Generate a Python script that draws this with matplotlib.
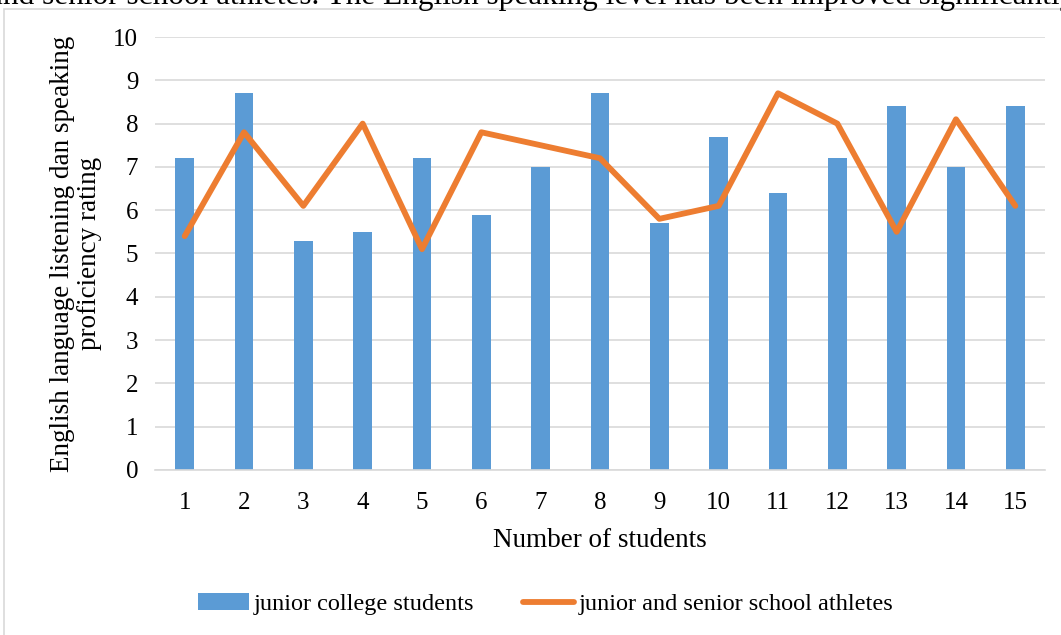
import numpy as np
import matplotlib.pyplot as plt
from matplotlib.patches import Rectangle

plt.rcParams['font.family'] = ['Liberation Serif', 'DejaVu Serif']

# data
students = list(range(1, 16))
college = [7.2, 8.7, 5.3, 5.5, 7.2, 5.9, 7.0, 8.7, 5.7, 7.7, 6.4, 7.2, 8.4, 7.0, 8.4]
athletes = [5.4, 7.8, 6.1, 8.0, 5.1, 7.8, 7.5, 7.2, 5.8, 6.1, 8.7, 8.0, 5.5, 8.1, 6.1]
yticks = list(range(0, 11))

W, H = 1061, 635
fig = plt.figure(figsize=(W / 100, H / 100), dpi=100)

# chart frame (cut by the image edge)
fig.patches.append(Rectangle((4 / W, -0.1), 1.2, 1 - 9 / H + 0.1,
                             transform=fig.transFigure, fill=False,
                             edgecolor='#D9D9D9', linewidth=1.2, zorder=0))

# caption text cut at top
fig.text(-11 / W, 1 - 4 / H, "and senior school athletes. The English speaking level has been improved significantly",
         fontsize=22.5, ha='left', va='baseline')

ax = fig.add_axes([155 / W, 1 - 470 / H, 890 / W, 433 / H])
x = np.arange(len(students))
bars = ax.bar(x, college, width=0.31, color='#5B9BD5', label='junior college students', zorder=2)
line, = ax.plot(x, athletes, color='#ED7D31', linewidth=4.2, solid_joinstyle='round',
                solid_capstyle='round', label='junior and senior school athletes', zorder=3)

ax.set_xlim(-0.5, len(students) - 0.5)
ax.set_ylim(0, 10)
ax.set_yticks(yticks)
ax.set_xticks(x)
ax.set_xticklabels([str(s) for s in students])
ax.tick_params(axis='both', length=0, labelsize=18)
ax.tick_params(axis='x', pad=16)
ax.tick_params(axis='y', pad=12)
ax.grid(axis='y', color='#D9D9D9', linewidth=1.2, zorder=0)
for s in ['top', 'right', 'left']:
    ax.spines[s].set_visible(False)
ax.spines['bottom'].set_color('#D9D9D9')
ax.spines['bottom'].set_linewidth(1.2)

ax.set_xlabel('Number of students', fontsize=19.5, labelpad=10)
ax.set_ylabel('English language listening dan speaking\nproficiency rating', fontsize=19.5,
              labelpad=8, linespacing=1.1)

fig.legend([bars, line], [bars.get_label(), line.get_label()], loc='center',
           bbox_to_anchor=(546 / W, 1 - 604 / H), ncol=2,
           frameon=False, fontsize=17.5, handlelength=2.1, handleheight=0.7,
           handletextpad=0.2, columnspacing=2.0)

fig.savefig('out.png', dpi=100)
